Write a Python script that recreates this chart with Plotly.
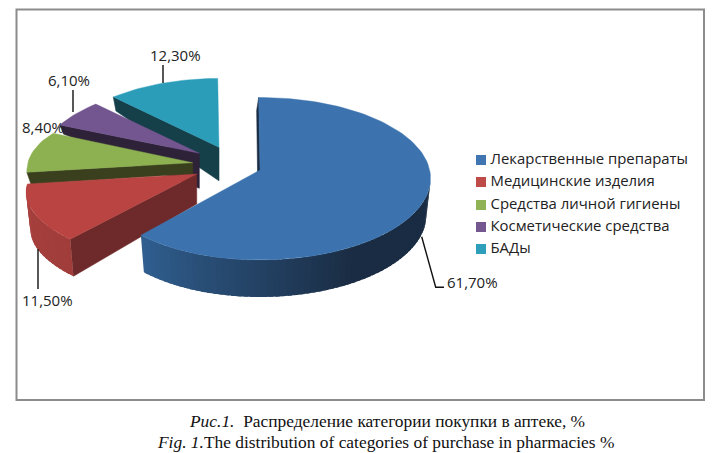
import math
import plotly.graph_objects as go

# ---- data ----
categories = ["Лекарственные препараты", "Медицинские изделия", "Средства личной гигиены",
              "Косметические средства", "БАДы"]
values = [61.7, 11.5, 8.4, 6.1, 12.3]

top_colors = ["#3C73AE", "#B94441", "#8DB050", "#73558F", "#2C9DB9"]
legend_colors = ["#3F75B0", "#BE4B48", "#90B356", "#75578F", "#2E9FBB"]
wall_colors = ["#1A2C44", "#6E2A2A", "#3A401E", "#2D2238", "#153F49"]
outer_from = ["#305F90", "#A03D3A", None, None, None]
outer_to = ["#1A2C43", "#A8413F", None, None, None]

# ---- drawing geometry (pixels of the page) ----
W, H = 716, 453
RX, RY, K = 170.0, 80.3, 0.1076
apex = [(260, 170), (196.7, 174), (192.7, 162.7), (199.3, 153.3), (219, 147.3)]
scale = [1.0, 1.0, 0.97, 0.93, 0.95]
xfac_start = [1.0, 1.03, 1.0, 1.0, 1.0]
xfac_end = [0.97, 0.99, 0.96, 1.0, 1.0]
depth_apex = [37, 30, 11, 35, 33.5]
depth_outer = [13, 37, 12, 9, 14]
OUTER_DEPTH = 37
XSHRINK = 0.975
START = -0.5

label_pos = [(472, 282), (47, 300), (43, 127), (69, 80), (175.5, 55)]
leaders = [
    [(421.7, 236.7), (435.7, 287.3), (444, 287.3)],
    [(38, 249), (38, 289)],
    [],
    [(73, 90), (73, 112)],
    [(163, 65), (163, 83)],
]
legend_x = 481
legend_text_x = 490.5
legend_y = [160, 182, 205, 227, 249]

FONT = "Open Sans"

total = sum(values)
angles = []
a0 = START
for v in values:
    a1 = a0 + v / total * 360
    angles.append((a0, a1))
    a0 = a1


def rim(theta_deg, i):
    t = math.radians(theta_deg)
    X, Y = math.sin(t), math.cos(t)
    s = scale[i] / (1 + K * Y)
    a, b = angles[i]
    frac = max(0.0, min(1.0, (theta_deg - a) / (b - a)))
    fac = xfac_start[i] + (xfac_end[i] - xfac_start[i]) * frac ** 3
    return RX * X * s * fac, -RY * Y * s


def mix(c1, c2, f):
    p = [int(c1[j:j + 2], 16) for j in (1, 3, 5)]
    q = [int(c2[j:j + 2], 16) for j in (1, 3, 5)]
    return "#%02x%02x%02x" % tuple(round(u + (v - u) * f) for u, v in zip(p, q))


def poly(fig, pts, color, line=0.6):
    xs = [p[0] for p in pts] + [pts[0][0]]
    ys = [p[1] for p in pts] + [pts[0][1]]
    fig.add_trace(go.Scatter(x=xs, y=ys, mode="lines", fill="toself", fillcolor=color,
                             line=dict(color=color, width=line), hoverinfo="skip",
                             showlegend=False))


fig = go.Figure()

for i in [4, 3, 2, 1, 0]:
    a, b = angles[i]
    ax, ay = apex[i]
    # radial wall on the slice's starting edge
    ox, oy = rim(a, i)
    wx = -2 if i == 0 else 0
    wall = [(ax, ay), (ax + ox, ay + oy),
            (ax + ox * XSHRINK + wx, ay + oy + depth_outer[i]),
            (ax + wx, ay + depth_apex[i])]
    poly(fig, wall, wall_colors[i])

    # curved outer wall, shaded step by step
    if outer_from[i]:
        lo = max(a, 96.2)
        n = int((b - lo) / 2) + 1
        step = (b - lo) / n
        for j in range(n):
            t0, t1 = lo + j * step, min(b, lo + (j + 1.7) * step)
            x0, y0 = rim(t0, i)
            x1, y1 = rim((t0 + t1) / 2, i)
            x2, y2 = rim(t1, i)
            f = (t0 + step / 2 - lo) / (b - lo)
            if i == 0:
                # dark for the first part, lightening towards the left corner
                f = min(1.0, max(0.0, (t0 + step / 2 - 150) / (b - 150)))
                col = mix(outer_to[i], outer_from[i], f)
            else:
                col = mix(outer_from[i], outer_to[i], f)
            poly(fig, [(ax + x0, ay + y0), (ax + x1, ay + y1), (ax + x2, ay + y2),
                       (ax + x2 * XSHRINK, ay + y2 + OUTER_DEPTH),
                       (ax + x1 * XSHRINK, ay + y1 + OUTER_DEPTH),
                       (ax + x0 * XSHRINK, ay + y0 + OUTER_DEPTH)], col, line=0)

    # top face
    n = max(4, int((b - a) / 2))
    pts = [(ax, ay)]
    for j in range(n + 1):
        x, y = rim(a + (b - a) * j / n, i)
        pts.append((ax + x, ay + y))
    poly(fig, pts, top_colors[i], line=0.4)

# leader lines
for seg in leaders:
    if seg:
        fig.add_trace(go.Scatter(x=[p[0] for p in seg], y=[p[1] for p in seg], mode="lines",
                                 line=dict(color="#111111", width=1.4), hoverinfo="skip",
                                 showlegend=False))

# legend: swatches, then their labels
fig.add_trace(go.Scatter(x=[legend_x] * len(categories), y=legend_y, mode="markers",
                         marker=dict(symbol="square", size=10, color=legend_colors),
                         hoverinfo="skip", showlegend=False))
fig.add_trace(go.Scatter(x=[legend_text_x] * len(categories), y=legend_y, mode="text",
                         text=categories, textposition="middle right",
                         textfont=dict(family=FONT, size=14.9, color="#222222"),
                         hoverinfo="skip", showlegend=False))

# data labels
for v, (x, y) in zip(values, label_pos):
    fig.add_annotation(x=x, y=y, xref="x", yref="y", showarrow=False,
                       text=f"{v:.2f}".replace(".", ",") + "%",
                       font=dict(family=FONT, size=15, color="#222222"))

# captions
fig.add_annotation(x=386.5, y=421, xref="x", yref="y", showarrow=False,
                   text="<i>Рис.1.</i>  Распределение категории покупки в аптеке, %",
                   font=dict(family="Liberation Serif", size=17.4, color="#111111"))
fig.add_annotation(x=385.5, y=442, xref="x", yref="y", showarrow=False,
                   text="<i>Fig. 1.</i>The distribution of categories of purchase in pharmacies %",
                   font=dict(family="Liberation Serif", size=17.4, color="#111111"))

fig.add_shape(type="rect", x0=16.5, y0=9.5, x1=704, y1=400, xref="x", yref="y",
              line=dict(color="#8C8C8C", width=2), layer="below")

fig.update_layout(
    width=W, height=H, margin=dict(l=0, r=0, t=0, b=0),
    paper_bgcolor="white", plot_bgcolor="white", showlegend=False,
    xaxis=dict(range=[0, W], visible=False, fixedrange=True),
    yaxis=dict(range=[H, 0], visible=False, fixedrange=True),
)

fig.write_html("out.html", config={"displayModeBar": False},
               post_script="document.body.style.margin='0';")
